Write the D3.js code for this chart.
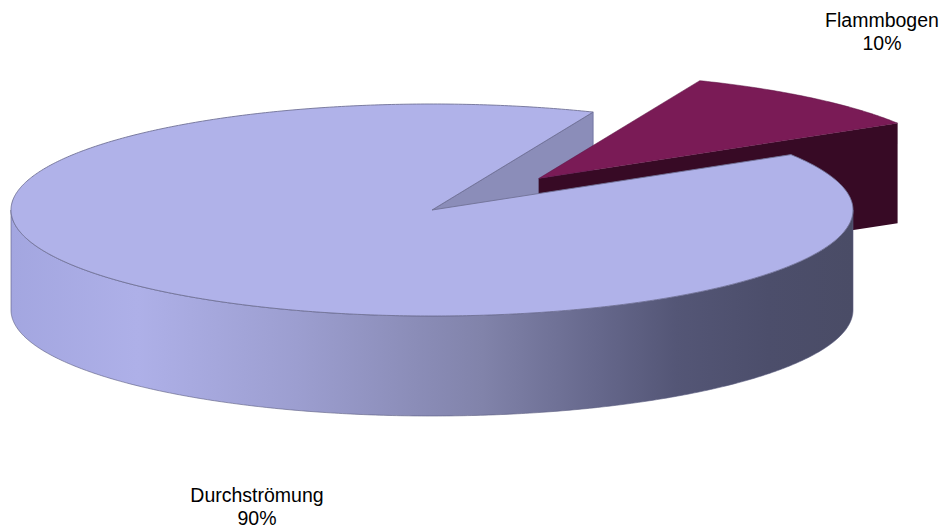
<!DOCTYPE html>
<html>
<head>
<meta charset="utf-8">
<script src="https://cdn.jsdelivr.net/npm/d3@7"></script>
<style>
  html, body { margin: 0; padding: 0; background: #ffffff; }
  svg { display: block; }
</style>
</head>
<body>
<svg id="chart" width="946" height="529"></svg>
<script>
// ---- Data ----
const categories = ["Flammbogen", "Durchströmung"];
const values = [10, 90];
const percentLabels = ["10%", "90%"];

// ---- Layout ----
const W = 946, H = 529;
const cx = 432, cy = 210, rx = 421, ry = 106, depth = 100;
const explode = [0.39, 0];           // parametric explode per slice
const startDeg = 22.5;
const topColors = ["#7a1b56", "#b0b2e9"];
const cutColors = ["#370a25", "#8b8db9"];

const svg = d3.select("#chart");
const defs = svg.append("defs");
const grad = defs.append("linearGradient")
  .attr("id", "sideGrad").attr("gradientUnits", "userSpaceOnUse")
  .attr("x1", cx - rx).attr("x2", cx + rx).attr("y1", 0).attr("y2", 0);
[[0, "#a3a6e0"], [0.15, "#aeb0e8"], [0.34, "#9c9ed0"], [0.56, "#8183aa"],
 [0.70, "#65678b"], [0.79, "#545676"], [0.9, "#4c4e6b"], [1, "#4a4c66"]]
  .forEach(([o, c]) => grad.append("stop").attr("offset", o).attr("stop-color", c));

const pie = d3.pie().sort(null)
  .startAngle(startDeg * Math.PI / 180)
  .endAngle((startDeg + 360) * Math.PI / 180);
const arcs = pie(values);

const line = d3.line();

function offsetOf(i) {
  const a = (arcs[i].startAngle + arcs[i].endAngle) / 2;
  return [rx * explode[i] * Math.sin(a), -ry * explode[i] * Math.cos(a)];
}
function pt(a, i, dz) {
  const [ox, oy] = offsetOf(i);
  return [cx + ox + rx * Math.sin(a), cy + oy - ry * Math.cos(a) + (dz || 0)];
}
function centerPt(i, dz) {
  const [ox, oy] = offsetOf(i);
  return [cx + ox, cy + oy + (dz || 0)];
}
function arcPts(a0, a1, i, dz) {
  const n = Math.max(8, Math.ceil(Math.abs(a1 - a0) / 0.01));
  return d3.range(n + 1).map(k => pt(a0 + (a1 - a0) * k / n, i, dz));
}
function topPath(i) {
  const d = arcs[i];
  return line([centerPt(i), ...arcPts(d.startAngle, d.endAngle, i)]) + "Z";
}
function cutPath(a, i) {
  return line([centerPt(i), pt(a, i), pt(a, i, depth), centerPt(i, depth)]) + "Z";
}
function wallPath(a0, a1, i) {
  const top = arcPts(a0, a1, i);
  const bot = arcPts(a1, a0, i, depth);
  return line([...top, ...bot]) + "Z";
}

const g = svg.append("g");
const main = 1, flame = 0;

// main slice cut face at its end angle (visible, facing viewer)
g.append("path").attr("d", cutPath(arcs[main].endAngle, main))
  .attr("fill", cutColors[main]).attr("stroke", "#6a6c9c").attr("stroke-width", 0.8);

// exploded slice: visible cut face at end angle, then top
g.append("path").attr("d", cutPath(arcs[flame].endAngle, flame))
  .attr("fill", cutColors[flame]);
g.append("path").attr("d", topPath(flame))
  .attr("fill", topColors[flame]).attr("stroke", "#5a1040").attr("stroke-width", 0.5);

// main slice outer wall (front half)
const f0 = Math.max(arcs[main].startAngle, Math.PI / 2);
const f1 = Math.min(arcs[main].endAngle, Math.PI * 1.5);
g.append("path").attr("d", wallPath(f0, f1, main))
  .attr("fill", "url(#sideGrad)").attr("stroke", "#5a5c80").attr("stroke-width", 0.6);

// main slice top
g.append("path").attr("d", topPath(main))
  .attr("fill", topColors[main]).attr("stroke", "#707296").attr("stroke-width", 0.9);

// ---- Labels ----
const labelPos = [[882, 27], [257, 502]];
categories.forEach((c, i) => {
  const t = svg.append("text")
    .attr("x", labelPos[i][0]).attr("y", labelPos[i][1])
    .attr("text-anchor", "middle")
    .attr("font-family", "'Liberation Sans', Arial, sans-serif")
    .attr("font-size", "19.5px").attr("fill", "#000");
  t.append("tspan").attr("x", labelPos[i][0]).text(c);
  t.append("tspan").attr("x", labelPos[i][0]).attr("dy", 22.5).text(percentLabels[i]);
});
</script>
</body>
</html>
